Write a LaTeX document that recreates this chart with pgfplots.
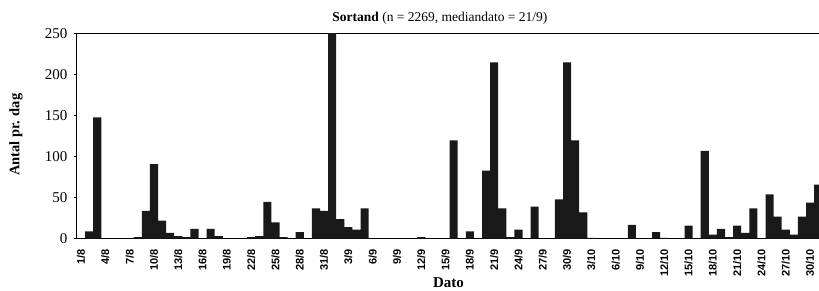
\documentclass[border=0pt]{standalone}
\usepackage{fontspec}
\setmainfont{Liberation Serif}
\setsansfont{Liberation Sans}
\usepackage{pgfplots}
\pgfplotsset{compat=1.18}
\begin{document}
\begin{tikzpicture}
\useasboundingbox (0,0) rectangle (819pt,290pt);
\begin{axis}[
  at={(77pt,51.3pt)}, anchor=south west,
  width=745.2pt, height=205pt, scale only axis,
  xmin=-0.5, xmax=91.5, ymin=0, ymax=250,
  ybar, bar width=8.1pt,
  ytick={0,50,...,250},
  xtick={0,3,...,90},
  xticklabels={1/8,4/8,7/8,10/8,13/8,16/8,19/8,22/8,25/8,28/8,31/8,3/9,6/9,9/9,12/9,15/9,18/9,21/9,24/9,27/9,30/9,3/10,6/10,9/10,12/10,15/10,18/10,21/10,24/10,27/10,30/10},
  xticklabel style={yshift=-4pt, rotate=90, anchor=east, font=\sffamily\bfseries\fontsize{11}{13}\selectfont},
  yticklabel style={xshift=-3pt, font=\fontsize{15}{17}\selectfont},
  /pgf/number format/assume math mode=true,
  x tick style={draw=none},
  y tick style={black, line width=0.6pt},
  tick align=outside, major tick length=3pt,
  axis line style={line width=1pt},
  title={{\bfseries Sortand} (n = 2269, mediandato = 21/9)},
  title style={at={(axis description cs:0.487,1.045)}, anchor=center, font=\fontsize{13.5}{15}\selectfont},
  ylabel={Antal pr. dag},
  ylabel style={at={(axis description cs:-0.0819,0.507)}, anchor=center, font=\bfseries\fontsize{14.5}{16}\selectfont},
  xlabel={Dato},
  xlabel style={at={(axis description cs:0.4985,-0.216)}, anchor=center, font=\bfseries\fontsize{15}{17}\selectfont},
]
\addplot[fill=black!90, draw=none] coordinates {
(0,0) (1,9) (2,148) (3,0) (4,0) (5,0) (6,0) (7,2) (8,34) (9,91)
(10,22) (11,7) (12,3) (13,2) (14,12) (15,0) (16,12) (17,3) (18,0) (19,0)
(20,0) (21,2) (22,3) (23,45) (24,20) (25,2) (26,0) (27,8) (28,0) (29,37)
(30,34) (31,252) (32,24) (33,14) (34,11) (35,37) (36,0) (37,0) (38,0) (39,0)
(40,0) (41,0) (42,2) (43,0) (44,0) (45,0) (46,120) (47,0) (48,9) (49,0)
(50,83) (51,215) (52,37) (53,2) (54,11) (55,0) (56,39) (57,0) (58,0) (59,48)
(60,215) (61,120) (62,32) (63,1) (64,0) (65,0) (66,0) (67,0) (68,17) (69,0)
(70,0) (71,8) (72,1) (73,0) (74,0) (75,16) (76,0) (77,107) (78,5) (79,12)
(80,2) (81,16) (82,7) (83,37) (84,0) (85,54) (86,27) (87,11) (88,5) (89,27)
(90,44) (91,66)
};
\end{axis}
\end{tikzpicture}
\end{document}
